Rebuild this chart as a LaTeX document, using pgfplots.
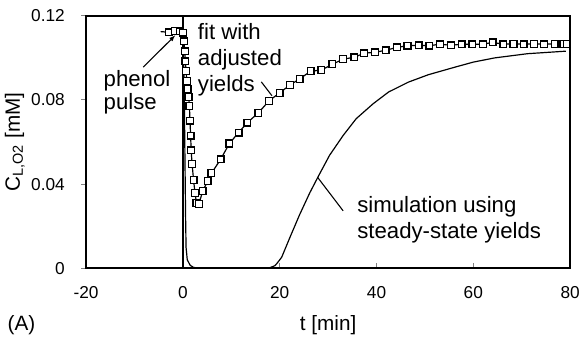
\documentclass[border=0pt]{standalone}
\usepackage{fontspec}
\setmainfont{Liberation Sans}
\usepackage{pgfplots}
\pgfplotsset{compat=1.18}
\pgfplotstableread{
t y
-2.9 0.1122
-1.6 0.1128
-0.6 0.1126
0.05 0.1120
0.2 0.1079
0.4 0.1031
0.5 0.0984
0.65 0.0937
0.8 0.0890
1.0 0.0852
1.2 0.0815
1.35 0.0772
1.45 0.0702
1.6 0.0631
1.7 0.0560
1.9 0.0495
2.2 0.0419
2.5 0.0358
2.8 0.0311
3.3 0.0306
4.1 0.0367
5.1 0.0414
5.9 0.0452
7.8 0.0518
9.6 0.0593
11.5 0.0645
13.3 0.0692
15.6 0.0739
17.8 0.0796
20.0 0.0834
22.1 0.0871
24.1 0.0900
26.4 0.0937
28.6 0.0942
30.9 0.0970
33.1 0.0994
35.4 0.1003
37.4 0.1022
39.7 0.1027
41.9 0.1036
44.2 0.1050
46.4 0.1058
48.7 0.1060
50.9 0.1058
53.1 0.1065
55.4 0.1060
57.6 0.1065
59.8 0.1065
62.0 0.1065
64.0 0.1074
66.2 0.1065
68.3 0.1067
70.4 0.1065
72.5 0.1067
74.6 0.1065
76.8 0.1067
78.6 0.1067
79.3 0.1067
}\fitdata
\pgfplotstableread{
t y
0 0.1125
0.25 0.0900
0.4 0.0570
0.55 0.0250
0.65 0.0099
0.9 0.0040
1.5 0.0014
2.2 0.0004
3.0 0.0001
10 0
17 0
18 0.0003
19 0.0012
19.5 0.0025
20.4 0.0052
22.1 0.0146
24.1 0.0254
26.2 0.0358
28.0 0.0438
30.3 0.0537
33.1 0.0631
35.8 0.0711
39.3 0.0782
42.5 0.0838
46.6 0.0885
50.7 0.0920
56.2 0.0956
60.0 0.0980
64.4 0.1000
71.2 0.1020
79.1 0.1032
}\simdata
\begin{document}
\begin{tikzpicture}
\begin{axis}[
  scale only axis, width=489bp, height=255bp,
  xmin=-20, xmax=80, ymin=0, ymax=0.12,
  xtick={-20,0,20,40,60,80}, xticklabels={-20,0,20,40,60,80},
  ytick={0,0.04,0.08,0.12}, yticklabels={0,0.04,0.08,0.12},
  xtick pos=bottom, ytick pos=left,
  tick align=inside, major tick length=5bp,
  ytick style={xshift=-5bp, line width=1bp},
  xtick style={line width=0.8bp},
  axis line style={line width=1.8bp},
  ticklabel style={font=\fontsize{17.5}{17.5}\selectfont},
  yticklabel style={xshift=-18bp},
  xticklabel style={yshift=-15bp},
  xlabel={t [min]},
  ylabel={C\textsubscript{L,O2} [mM]},
  label style={font=\fontsize{21}{21}\selectfont},
  xlabel style={at={(axis description cs:0.5,-0.225)}, anchor=center},
  ylabel style={at={(axis description cs:-0.1472,0.5)}, anchor=center},
  clip=false,
]
\addplot[black, line width=1.5bp] coordinates {(0,0) (0,0.12)};
\addplot[black, line width=1.2bp] table[x=t,y=y] {\simdata};
\addplot[black, line width=1.2bp] coordinates {(-4.6,0.1125) (-2.9,0.1122)};
\addplot[black, line width=1.2bp, mark=square*, mark size=3.4bp,
  mark options={fill=white, line width=1.3bp}] table[x=t,y=y] {\fitdata};
% annotations
\draw[line width=1.1bp, -latex] (axis cs:-8.2,0.0956) -- (axis cs:-1.6,0.1107);
\node[anchor=base west, inner sep=0, font=\fontsize{22.5}{22.5}\selectfont] at (axis cs:-16.4,0.0862) {phenol};
\node[anchor=base west, inner sep=0, font=\fontsize{22.5}{22.5}\selectfont] at (axis cs:-16.4,0.0753) {pulse};
\node[anchor=base west, inner sep=0, font=\fontsize{22.5}{22.5}\selectfont] at (axis cs:3.07,0.1088) {fit with};
\node[anchor=base west, inner sep=0, font=\fontsize{22.5}{22.5}\selectfont] at (axis cs:3.07,0.0965) {adjusted};
\node[anchor=base west, inner sep=0, font=\fontsize{22.5}{22.5}\selectfont] at (axis cs:3.07,0.0842) {yields};
\draw[line width=1.1bp] (axis cs:16.2,0.0886) -- (axis cs:18.4,0.0820);
\draw[line width=1.1bp] (axis cs:27.8,0.0433) -- (axis cs:33.1,0.0273);
\node[anchor=base west, inner sep=0, font=\fontsize{22.5}{22.5}\selectfont] at (axis cs:36.0,0.0264) {simulation using};
\node[anchor=base west, inner sep=0, font=\fontsize{22.5}{22.5}\selectfont] at (axis cs:36.0,0.0141) {steady-state yields};
\node[anchor=west, inner sep=0, font=\fontsize{21}{21}\selectfont] at (axis description cs:-0.1626,-0.225) {(A)};
\coordinate (sw) at (axis description cs:0,0);
\coordinate (ne) at (axis description cs:1,1);
\end{axis}
\path[use as bounding box] ([shift={(-87bp,-74bp)}]sw) rectangle ([shift={(7bp,16bp)}]ne);
\end{tikzpicture}
\end{document}
